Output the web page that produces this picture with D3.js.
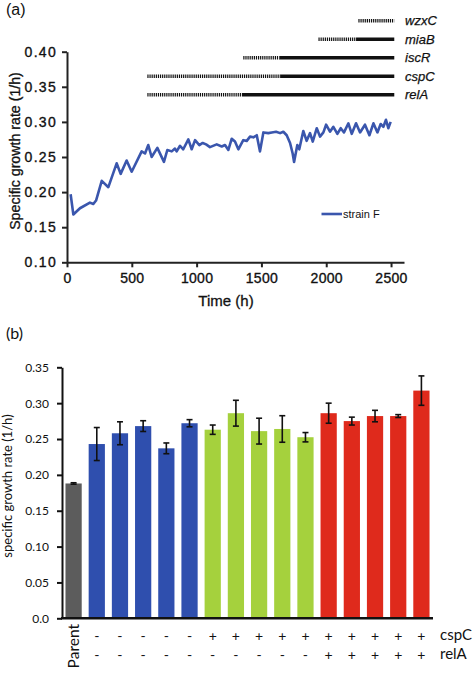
<!DOCTYPE html>
<html><head><meta charset="utf-8">
<script src="https://cdn.jsdelivr.net/npm/d3@7"></script>
<style>body{margin:0;background:#fff}</style>
</head><body><svg id="c" width="473" height="673"></svg>
<script>
// ---------- Panel (a) data ----------
const timeH = [28,49,100,177,203,224,268,319,383,414,460,499,576,602,627,653,697,748,774,808,833,846,872,897,936,962,988,1021,1047,1073,1103,1155,1194,1219,1245,1271,1296,1322,1360,1387,1412,1438,1464,1489,1515,1553,1580,1613,1644,1669,1695,1721,1741,1752,1777,1792,1823,1849,1875,1896,1927,1952,1978,1999,2029,2055,2086,2112,2137,2171,2197,2230,2261,2299,2333,2364,2395,2420,2441,2461,2479,2497];
const rateF = [0.197,0.168,0.177,0.185,0.183,0.188,0.216,0.207,0.241,0.226,0.245,0.229,0.258,0.255,0.267,0.250,0.263,0.243,0.260,0.258,0.262,0.258,0.266,0.261,0.275,0.261,0.274,0.267,0.270,0.268,0.264,0.268,0.265,0.267,0.260,0.276,0.272,0.261,0.274,0.273,0.279,0.278,0.281,0.258,0.285,0.284,0.285,0.286,0.284,0.286,0.281,0.270,0.255,0.243,0.267,0.261,0.287,0.273,0.284,0.272,0.291,0.279,0.285,0.296,0.286,0.293,0.283,0.291,0.285,0.298,0.283,0.298,0.285,0.296,0.281,0.298,0.285,0.297,0.293,0.303,0.291,0.300];
const xTicksA = [0,500,1000,1500,2000,2500];
const yTicksA = [0.10,0.15,0.20,0.25,0.30,0.35,0.40];
const genes = ["wzxC","miaB","iscR","cspC","relA"];
const geneDotStart = [2248,1940,1360,620,620];
const geneSolidStart = [2525,2230,1640,1650,1350];
const geneEnd = [2525,2525,2525,2525,2525];

// ---------- Panel (b) data ----------
const strains = ["Parent","s1","s2","s3","s4","s5","s6","s7","s8","s9","s10","s11","s12","s13","s14","s15"];
const rates = [0.188,0.243,0.258,0.268,0.237,0.272,0.263,0.286,0.261,0.264,0.2525,0.286,0.275,0.282,0.282,0.3175];
const errs  = [0.001,0.023,0.016,0.0075,0.0075,0.005,0.0065,0.018,0.018,0.0185,0.0065,0.014,0.0055,0.008,0.002,0.0205];
const groups = ["parent","blue","blue","blue","blue","blue","green","green","green","green","green","red","red","red","red","red"];
const cspCRow = ["","-","-","-","-","-","+","+","+","+","+","+","+","+","+","+"];
const relARow = ["","-","-","-","-","-","-","-","-","-","-","+","+","+","+","+"];
const yTicksB = [0,0.05,0.10,0.15,0.20,0.25,0.30,0.35];
const yTickLabelsB = ["0.0","0.05","0.10","0.15","0.20","0.25","0.30","0.35"];

const svg = d3.select("#c");
const fA = "'Liberation Sans', Arial, sans-serif";
const fB = "Lato, 'Open Sans', sans-serif";

// ===== Panel (a) =====
const xA = d3.scaleLinear().domain([0,2600]).range([67,404]);
const yA = d3.scaleLinear().domain([0.10,0.40]).range([262.3,51.7]);

svg.append("text").attr("x",6).attr("y",15).attr("font-family",fA).attr("font-size",16).attr("fill","#111").text("(a)");

const gxA = svg.append("g").attr("transform","translate(0,262.3)")
  .call(d3.axisBottom(xA).tickValues(xTicksA).tickFormat(d3.format("d")).tickSize(5).tickSizeOuter(0).tickPadding(6));
const gyA = svg.append("g").attr("transform","translate(67,0)")
  .call(d3.axisLeft(yA).tickValues(yTicksA).tickFormat(d3.format(".2f")).tickSize(5).tickSizeOuter(0).tickPadding(5));
[gxA,gyA].forEach(g=>{
  g.select(".domain").attr("stroke","#222").attr("stroke-width",2);
  g.selectAll(".tick line").attr("stroke","#222").attr("stroke-width",2);
  g.selectAll("text").attr("font-family",fA).attr("font-size",14).attr("fill","#111")
   .attr("stroke","#111").attr("stroke-width",0.35).attr("letter-spacing","0.3px");
});
gyA.selectAll("text").attr("letter-spacing","1.3px");

svg.append("text").attr("transform","translate(20,151) rotate(-90)").attr("text-anchor","middle")
  .attr("font-family",fA).attr("font-size",14.2).attr("fill","#111").attr("stroke","#111").attr("stroke-width",0.3)
  .text("Specific growth rate (1/h)");
svg.append("text").attr("x",226).attr("y",306).attr("text-anchor","middle")
  .attr("font-family",fA).attr("font-size",15).attr("fill","#111").attr("stroke","#111").attr("stroke-width",0.3)
  .text("Time (h)");

svg.append("path").datum(timeH.map((t,i)=>[t,rateF[i]]))
  .attr("fill","none").attr("stroke","#3a56ad").attr("stroke-width",2.6).attr("stroke-linejoin","round")
  .attr("d", d3.line().x(d=>xA(d[0])).y(d=>yA(d[1])));

// gene tracks
const yG = d3.scalePoint().domain(genes).range([20.7,94.7]);
genes.forEach((g,i)=>{
  svg.append("line").attr("x1",xA(geneDotStart[i])).attr("x2",xA(geneSolidStart[i]))
    .attr("y1",yG(g)).attr("y2",yG(g)).attr("stroke","#111").attr("stroke-width",3.5).attr("stroke-dasharray","1.2,0.9");
  if (geneSolidStart[i] < geneEnd[i]) {
    svg.append("line").attr("x1",xA(geneSolidStart[i])).attr("x2",xA(geneEnd[i]))
      .attr("y1",yG(g)).attr("y2",yG(g)).attr("stroke","#111").attr("stroke-width",3.5);
  }
  svg.append("text").attr("x",405).attr("y",yG(g)+4.5).attr("font-family",fA).attr("font-style","italic")
    .attr("font-size",13).attr("fill","#111").attr("stroke","#111").attr("stroke-width",0.25).text(g);
});

// legend
svg.append("line").attr("x1",321.5).attr("x2",342).attr("y1",214).attr("y2",214).attr("stroke","#3a56ad").attr("stroke-width",2.6);
svg.append("text").attr("x",343).attr("y",218).attr("font-family",fA).attr("font-size",11).attr("fill","#111").text("strain F");

// ===== Panel (b) =====
const xB = d3.scaleBand().domain(strains).range([62,433]).paddingInner(0.3).paddingOuter(0.15);
const yB = d3.scaleLinear().domain([0,0.35]).range([618.3,367.3]);
const colors = {parent:"#5c5c5c", blue:"#2f4fae", green:"#a5d13d", red:"#df2a1c"};

svg.append("text").attr("x",6).attr("y",339).attr("font-family",fB).attr("font-size",16).attr("fill","#111").text("(b)");

svg.append("g").selectAll("rect").data(strains).join("rect")
  .attr("x",d=>xB(d)).attr("width",xB.bandwidth())
  .attr("y",(d,i)=>yB(rates[i])).attr("height",(d,i)=>yB(0)-yB(rates[i]))
  .attr("fill",(d,i)=>colors[groups[i]]);

const eb = svg.append("g").attr("stroke","#111").attr("stroke-width",1.6);
strains.forEach((d,i)=>{
  const cx = xB(d)+xB.bandwidth()/2;
  const y1 = yB(rates[i]+errs[i]), y2 = yB(rates[i]-errs[i]);
  eb.append("line").attr("x1",cx).attr("x2",cx).attr("y1",y1).attr("y2",y2);
  eb.append("line").attr("x1",cx-3).attr("x2",cx+3).attr("y1",y1).attr("y2",y1);
  eb.append("line").attr("x1",cx-3).attr("x2",cx+3).attr("y1",y2).attr("y2",y2);
});

const gyB = svg.append("g").attr("transform","translate(62,0)")
  .call(d3.axisLeft(yB).tickValues(yTicksB).tickFormat((d,i)=>yTickLabelsB[i]).tickSize(5).tickSizeOuter(0).tickPadding(8));
gyB.select(".domain").attr("stroke","#111").attr("stroke-width",2);
gyB.selectAll(".tick line").attr("stroke","#111").attr("stroke-width",2);
gyB.selectAll("text").attr("font-family",fB).attr("font-size",12).attr("fill","#111");

svg.append("line").attr("x1",61).attr("x2",433).attr("y1",yB(0)).attr("y2",yB(0)).attr("stroke","#111").attr("stroke-width",2.5);

svg.append("text").attr("transform","translate(12,486) rotate(-90)").attr("text-anchor","middle")
  .attr("font-family",fB).attr("font-size",13).attr("fill","#111").text("specific growth rate (1/h)");

// row labels
svg.append("text").attr("transform",`translate(${xB("Parent")+xB.bandwidth()/2+5},624) rotate(-90)`).attr("text-anchor","end")
  .attr("font-family",fB).attr("font-size",15.5).attr("fill","#111").text("Parent");
strains.forEach((d,i)=>{
  const cx = xB(d)+xB.bandwidth()/2;
  svg.append("text").attr("x",cx).attr("y",641).attr("text-anchor","middle").attr("font-family",fB).attr("font-size",14).attr("fill","#111").text(cspCRow[i]);
  svg.append("text").attr("x",cx).attr("y",660).attr("text-anchor","middle").attr("font-family",fB).attr("font-size",14).attr("fill","#111").text(relARow[i]);
});
svg.append("text").attr("x",440).attr("y",640).attr("font-family",fB).attr("font-size",15).attr("fill","#111").text("cspC");
svg.append("text").attr("x",440).attr("y",659).attr("font-family",fB).attr("font-size",15).attr("fill","#111").text("relA");
</script></body></html>
